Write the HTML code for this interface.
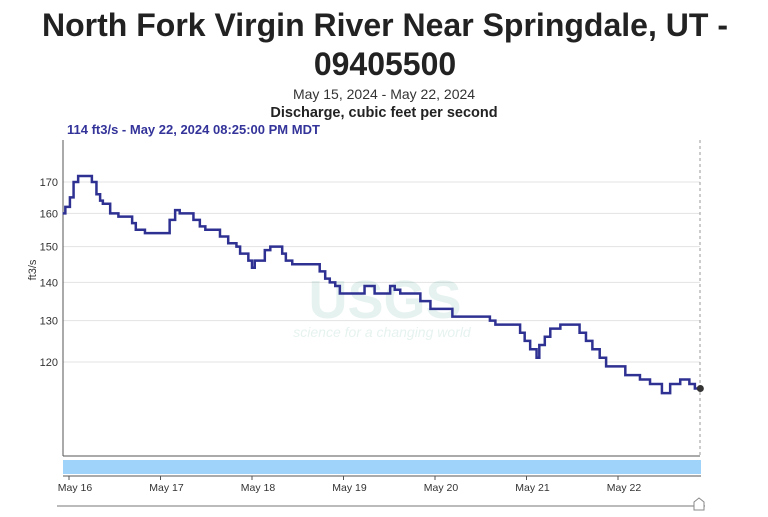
<!DOCTYPE html>
<html><head><meta charset="utf-8"><style>
body{margin:0;width:768px;height:512px;overflow:hidden;background:#fff;font-family:"Liberation Sans",sans-serif}
</style></head><body>
<svg width="768" height="512">
<text x="385" y="36" text-anchor="middle" font-size="32" font-weight="bold" fill="#222" textLength="686">North Fork Virgin River Near Springdale, UT -</text>
<text x="385" y="75" text-anchor="middle" font-size="32" font-weight="bold" fill="#222">09405500</text>
<text x="384" y="99" text-anchor="middle" font-size="14" fill="#333">May 15, 2024 - May 22, 2024</text>
<text x="384" y="117" text-anchor="middle" font-size="14.5" font-weight="bold" fill="#222">Discharge, cubic feet per second</text>
<text x="67" y="134" font-size="13" font-weight="bold" fill="#33339a">114 ft3/s - May 22, 2024 08:25:00 PM MDT</text>
<g id="grid"></g>
<g opacity="0.1"><text x="385" y="318" text-anchor="middle" font-size="54" font-weight="bold" fill="#0a8a6a">USGS</text>
<text x="382" y="337" text-anchor="middle" font-size="14" font-style="italic" fill="#0a8a6a">science for a changing world</text></g>
<line x1="63" y1="140" x2="63" y2="456" stroke="#555"/>
<line x1="63" y1="456" x2="700" y2="456" stroke="#555"/>
<line x1="700" y1="140" x2="700" y2="456" stroke="#999" stroke-dasharray="3,3"/>
<text x="36" y="270" font-size="11" fill="#333" transform="rotate(-90 36 270)" text-anchor="middle">ft3/s</text>
<g id="series"></g>
<rect x="63" y="460" width="638" height="14" fill="#9fd3fa"/>
<line x1="63" y1="476" x2="701" y2="476" stroke="#555"/>
<g id="xt"></g>
<line x1="57" y1="506" x2="705" y2="506" stroke="#bbb" stroke-width="2"/>
<path d="M694 502 L699 498 L704 502 L704 510 L694 510 Z" fill="#fff" stroke="#888"/>
</svg>
<script>
const days=[-0.07,-0.04,-0.01,0.01,0.05,0.10,0.23,0.25,0.30,0.34,0.37,0.45,0.54,0.62,0.69,0.73,0.83,0.94,1.06,1.10,1.16,1.21,1.30,1.36,1.43,1.49,1.60,1.65,1.74,1.83,1.87,1.96,2.00,2.03,2.11,2.14,2.20,2.31,2.33,2.37,2.44,2.58,2.69,2.74,2.80,2.85,2.91,2.96,3.07,3.18,3.23,3.34,3.45,3.51,3.56,3.62,3.73,3.84,3.95,4.05,4.14,4.19,4.33,4.49,4.60,4.66,4.71,4.87,4.93,4.98,5.04,5.09,5.11,5.14,5.20,5.26,5.37,5.53,5.58,5.65,5.72,5.80,5.87,5.93,6.02,6.08,6.19,6.24,6.35,6.40,6.48,6.57,6.68,6.78,6.84,6.90];
const flows=[160,162,162,165,170,172,172,170,166,164,163,160,159,159,157,155,154,154,154,158,161,160,160,158,156,155,155,153,151,150,148,146,144,146,146,149,150,150,148,146,145,145,145,143,141,140,139,137,137,137,139,137,137,139,138,137,137,135,133,133,133,131,131,131,130,129,129,129,127,125,123,123,121,124,126,128,129,129,127,125,123,121,119,119,119,117,117,116,115,115,113,115,116,115,114,114];
const yTicks=[170,160,150,140,130,120];
const xTickLabels=["May 16","May 17","May 18","May 19","May 20","May 21","May 22"];
const xTickDays=[0,1,2,3,4,5,6];
const NS="http://www.w3.org/2000/svg";
const x=d=>69+d*91.5;
const y=v=>182+(Math.log10(170)-Math.log10(v))*1190;
const grid=document.getElementById('grid');
yTicks.forEach(v=>{
 const l=document.createElementNS(NS,'line');
 l.setAttribute('x1',63);l.setAttribute('x2',700);l.setAttribute('y1',y(v));l.setAttribute('y2',y(v));
 l.setAttribute('stroke','#e3e3e3');
 
 
 grid.appendChild(l);
 const t=document.createElementNS(NS,'text');
 t.setAttribute('x',58);t.setAttribute('y',y(v)+4);t.setAttribute('text-anchor','end');
 t.setAttribute('font-size','11');t.setAttribute('fill','#333');t.textContent=v;
 
 
 grid.appendChild(t);
});
let d='';
days.forEach((dd,i)=>{
 if(i===0) d+='M'+x(dd)+' '+y(flows[i]);
 else d+=' H'+x(dd)+' V'+y(flows[i]);
});
const p=document.createElementNS(NS,'path');
p.setAttribute('d',d);p.setAttribute('fill','none');p.setAttribute('stroke','#2e3192');p.setAttribute('stroke-width','2.5');


document.getElementById('series').appendChild(p);
const c=document.createElementNS(NS,'circle');
c.setAttribute('cx',x(days[days.length-1]));c.setAttribute('cy',y(flows[flows.length-1]));c.setAttribute('r',3.5);c.setAttribute('fill','#333');


document.getElementById('series').appendChild(c);
const xt=document.getElementById('xt');
xTickDays.forEach((dd,i)=>{
 const l=document.createElementNS(NS,'line');
 l.setAttribute('x1',x(dd));l.setAttribute('x2',x(dd));l.setAttribute('y1',476);l.setAttribute('y2',480);l.setAttribute('stroke','#555');
 
 
 xt.appendChild(l);
 const t=document.createElementNS(NS,'text');
 t.setAttribute('x',x(dd)+6);t.setAttribute('y',491);t.setAttribute('text-anchor','middle');
 t.setAttribute('font-size','10.5');t.setAttribute('fill','#333');t.textContent=xTickLabels[i];
 
 
 xt.appendChild(t);
});
</script>
</body></html>
